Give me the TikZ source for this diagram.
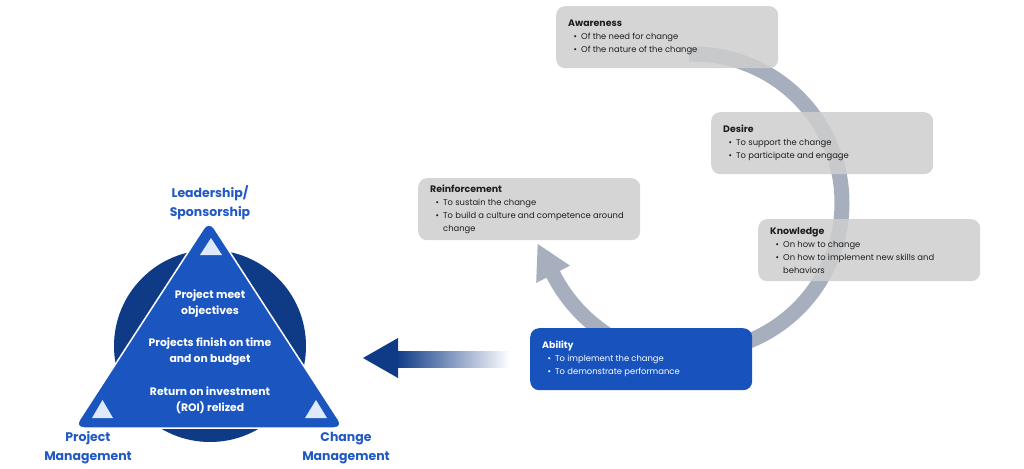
\documentclass[tikz,border=0pt]{standalone}
\usepackage{fontspec}
\setmainfont{Poppins}
\usetikzlibrary{calc}
\definecolor{boxgray}{RGB}{206,206,206}
\definecolor{arcgray}{RGB}{167,175,190}
\definecolor{ablue}{RGB}{24,83,189}
\definecolor{tblue}{RGB}{27,86,192}
\definecolor{navy}{RGB}{14,58,134}
\definecolor{lightb}{RGB}{222,233,251}
\definecolor{lbltext}{RGB}{32,88,196}
\definecolor{dtext}{RGB}{30,30,30}
\newcommand{\bul}[1]{\makebox[13pt][l]{\hspace{5.5pt}\textbullet}#1}
\newcommand{\ttl}[1]{{\fontsize{9.4}{13}\selectfont\bfseries #1}}
\tikzset{
  stagebox/.style={rounded corners=9pt, fill=boxgray, fill opacity=0.85, minimum width=222pt, minimum height=62pt, inner sep=0pt, anchor=north west},
  activebox/.style={stagebox, fill=ablue, fill opacity=1},
  stagetext/.style={anchor=west, align=left, inner sep=0pt, text=dtext, font=\fontsize{8.4}{13}\selectfont},
  activetext/.style={stagetext, text=white},
  arcline/.style={arcgray, line width=15pt},
  cornerlbl/.style={align=center, inner sep=0pt, text=lbltext, font=\fontsize{12.5}{19}\selectfont\bfseries},
  innerlbl/.style={align=center, inner sep=0pt, text=white, font=\fontsize{10.8}{16}\selectfont\bfseries},
  marker/.style={fill=lightb}
}
\begin{document}
\begin{tikzpicture}[x=1pt,y=-1pt]
\useasboundingbox (0,0) rectangle (1024,468);

% ---------- cycle arcs ----------
\coordinate (cc) at (693,203);
\draw[arcline] ($(cc)+(-91.5:149)$) coordinate (arcstart) arc[start angle=-91.5, end angle=100, radius=149] coordinate (arcend);
\draw[arcline] ($(cc)+(118:157)$) coordinate (retstart) arc[start angle=118, end angle=153.5, radius=157] coordinate (retend);
\coordinate (hm) at ($(cc)+(153:157)$);
\fill[arcgray] ($(hm)+(243:34)$) coordinate (htip) -- ($(hm)+(153:19)$) -- ($(hm)+(333:19)$) -- cycle;

% ---------- stage boxes ----------
\node[stagebox] (aw) at (556,6) {};
\node[stagetext] (awt) at ($(aw.west)+(12,0)$) {\ttl{Awareness}\\\bul{Of the need for change}\\\bul{Of the nature of the change}};

\node[stagebox] (de) at (711,112) {};
\node[stagetext] (det) at ($(de.west)+(12,0)$) {\ttl{Desire}\\\bul{To support the change}\\\bul{To participate and engage}};

\node[stagebox] (kn) at (758,219) {};
\node[stagetext] (knt) at ($(kn.west)+(12,0)$) {\ttl{Knowledge}\\\bul{On how to change}\\\bul{On how to implement new skills and}\\\hspace*{13pt}behaviors};

\node[stagebox] (re) at (418,178) {};
\node[stagetext] (ret) at ($(re.west)+(12,0)$) {\ttl{Reinforcement}\\\bul{To sustain the change}\\\bul{To build a culture and competence around}\\\hspace*{13pt}change};

\node[activebox] (ab) at (530,328) {};
\node[activetext] (abt) at ($(ab.west)+(12,0)$) {\ttl{Ability}\\\bul{To implement the change}\\\bul{To demonstrate performance}};

% ---------- big arrow ----------
\shade[left color=navy, right color=white] (396,351) rectangle (510,367);
\fill[navy] (363,358) coordinate (bigtip) -- (398,338) -- (398,378) -- cycle;

% ---------- triangle model ----------
\fill[navy] (210,346) circle[radius=96];
\draw[fill=tblue, draw=white, line width=1.5pt, rounded corners=10pt] (209,220) coordinate (apex) -- (344,428) coordinate (bright) -- (74,428) coordinate (bleft) -- cycle;
\fill[marker] (211,238) -- (222,255) -- (200,255) -- cycle;
\fill[marker] (102.5,400) -- (113,418) -- (92,418) -- cycle;
\fill[marker] (316,400) -- (327,418) -- (305,418) -- cycle;

\node[innerlbl] (t1) at (210,304) {Project meet\\objectives};
\node[innerlbl] (t2) at (210,352) {Projects finish on time\\and on budget};
\node[innerlbl] (t3) at (210,400) {Return on investment\\(ROI) relized};

\node[cornerlbl] (lead) at (210,203) {Leadership/\\Sponsorship};
\node[cornerlbl] (pm) at (88,448) {Project\\Management};
\node[cornerlbl] (cm) at (346,448) {Change\\Management};
\end{tikzpicture}
\end{document}
